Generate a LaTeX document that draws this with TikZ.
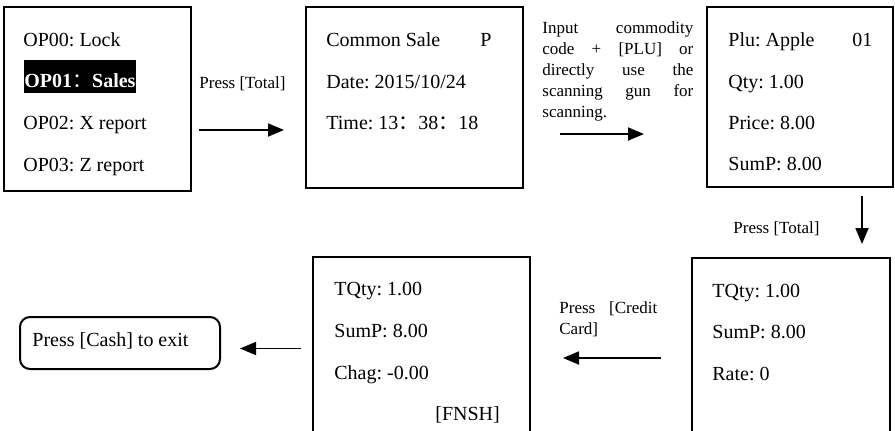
\documentclass[tikz,border=0pt]{standalone}
\usepackage{fontspec}
\setmainfont{Liberation Serif}
\newfontfamily\cjk{Noto Sans CJK SC}
\usetikzlibrary{arrows.meta}

\newcommand{\wcolon}{{\cjk ：}}
\frenchspacing

\begin{document}
\begin{tikzpicture}[x=0.5pt, y=-0.5pt,
    screen/.style={draw, line width=1pt, inner sep=0pt},
    txt/.style={anchor=base west, inner sep=0pt},
    small/.style={font=\fontsize{8.5}{10.5}\selectfont},
    arr/.style={-{Triangle[length=8pt,width=6.5pt]}, line width=0.9pt}]
        \useasboundingbox (0,0) rectangle (895,430);
        \clip (0,0) rectangle (895,430);

        \node[screen, minimum width=93.5pt, minimum height=92pt] (menu) at (97.5,99) {};
        \node[screen, minimum width=108.5pt, minimum height=90.5pt] (sale) at (414.5,97.5) {};
        \node[screen, minimum width=93pt, minimum height=90pt] (item) at (800,97) {};
        \node[screen, minimum width=99pt, minimum height=91pt] (total) at (791,349) {};
        \node[screen, minimum width=108.5pt, minimum height=91.5pt] (fnsh) at (421.5,348.5) {};
        \node[screen, rounded corners=5pt, minimum width=100pt, minimum height=26pt] (exit) at (120,343) {};

        \node[txt] (op00) at (23,46) {OP00: Lock};
        \node[txt, fill=black, text=white, text height=13.5pt, text depth=3pt] (op01) at (24,87)
            {\textbf{OP01}\wcolon\textbf{Sales}};
        \node[txt] (op02) at (23,129) {OP02: X report};
        \node[txt] (op03) at (23,171) {OP03: Z report};

        \node[txt] (common) at (326,46) {Common Sale};
        \node[txt] (mode) at (480,46) {P};
        \node[txt] (date) at (326,88) {Date: 2015/10/24};
        \node[txt] (time) at (326,129) {Time: 13\wcolon 38\wcolon 18};

        \node[txt] (plu) at (728,46) {Plu: Apple};
        \node[txt] (pluno) at (852,46) {01};
        \node[txt] (qty) at (728,88) {Qty: 1.00};
        \node[txt] (price) at (728,129) {Price: 8.00};
        \node[txt] (sump) at (728,170) {SumP: 8.00};

        \node[txt] (tqty) at (712,297) {TQty: 1.00};
        \node[txt] (tsum) at (712,338) {SumP: 8.00};
        \node[txt] (rate) at (712,380) {Rate: 0};

        \node[txt] (fqty) at (334,295) {TQty: 1.00};
        \node[txt] (fsum) at (334,337) {SumP: 8.00};
        \node[txt] (chag) at (334,379) {Chag: -0.00};
        \node[txt] (done) at (435,420) {[FNSH]};

        \node[txt] (cash) at (32,346) {Press [Cash] to exit};

        \node[txt, small] (total1) at (199,88) {Press [Total]};
        \node[small, anchor=north west, inner sep=0pt, text width=75.5pt, align=justify] (scan) at (542,21)
            {Input commodity\linebreak code + [PLU] or\linebreak directly use the\linebreak scanning gun for\linebreak scanning.};
        \node[txt, small] (total2) at (733,233) {Press [Total]};
        \node[small, anchor=north west, inner sep=0pt, text width=49pt, align=justify] (credit) at (559,301.5)
            {Press [Credit Card]};

        \draw[arr, shorten <=3.5pt, shorten >=10.5pt] ([yshift=-15.5pt]menu.east) -- ([yshift=-15.5pt]menu.east -| sale.west);
        \draw[arr, shorten <=18pt, shorten >=31pt] ([yshift=-18.25pt]sale.east) -- ([yshift=-18.25pt]sale.east -| item.west);
        \draw[arr, shorten <=4pt, shorten >=6.5pt] ([xshift=31pt]item.south) -- ([xshift=31pt]item.south |- total.north);
        \draw[arr, shorten <=15pt, shorten >=16pt] ([yshift=-4.5pt]total.west) -- ([yshift=-4.5pt]total.west -| fnsh.east);
        \draw[arr, shorten <=5.5pt, shorten >=9.5pt] (fnsh.west) -- (fnsh.west -| exit.east);
    \end{tikzpicture}
\end{document}
